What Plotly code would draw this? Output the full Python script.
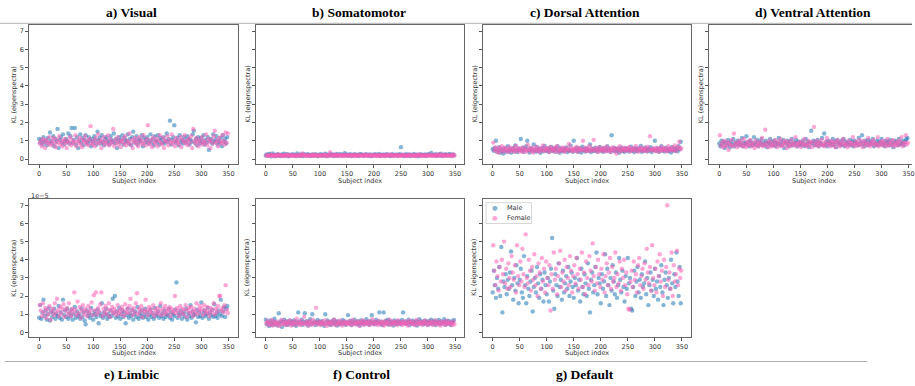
import plotly.graph_objects as go

W, H = 915, 386

# ---------------- data (KL eigenspectra, every other subject index) ----------------
visual_male = [1.1,0.9,1.05,0.8,1.2,0.95,1.0,0.75,1.15,0.9,1.45,1.0,0.85,1.25,0.7,1.1,0.95,1.65,0.6,1.05,1.2,0.9,1.35,0.8,1.0,
 1.1,0.95,1.4,0.85,1.25,1.7,0.9,1.05,1.7,0.8,1.2,0.6,1.0,1.35,0.9,1.15,0.75,1.05,1.3,0.95,0.85,1.2,1.0,0.7,1.1,
 0.9,1.25,1.05,0.8,1.5,1.0,1.15,0.85,1.3,0.95,0.75,1.1,1.2,0.9,1.0,0.8,1.25,1.05,0.95,1.4,0.85,1.1,0.6,1.0,1.2,
 0.9,1.05,1.3,0.8,1.15,0.95,1.0,1.35,0.85,1.1,0.75,1.2,1.5,0.9,1.05,1.25,0.8,1.0,1.1,0.95,1.3,0.7,1.15,0.9,1.05,
 1.2,0.85,1.0,1.35,0.9,1.1,0.75,1.25,1.0,0.95,1.3,0.8,1.15,1.05,0.9,1.2,0.85,1.0,1.4,0.95,1.1,2.1,0.8,1.05,1.2,
 1.85,0.9,1.0,1.15,0.75,1.3,0.95,1.05,0.85,1.2,1.0,0.9,1.25,1.1,0.8,1.05,0.95,1.35,1.55,0.9,1.1,0.75,1.2,1.0,0.85,
 1.15,0.95,1.3,0.8,1.05,0.9,1.2,0.5,1.0,1.1,0.85,1.35,0.95,1.05,1.25,0.8,1.0,0.9,1.15,0.7,1.3,0.95,1.1,0.85,1.2]
visual_female = [0.85,1.0,0.7,1.1,0.9,0.6,1.05,0.95,0.8,1.2,0.9,0.75,1.0,1.15,0.85,0.65,1.05,0.9,1.25,0.8,1.0,0.7,0.95,1.1,0.85,
 0.6,1.0,0.9,1.2,0.75,1.05,0.85,0.95,1.3,0.7,1.0,0.9,1.15,0.8,0.65,1.05,0.95,1.25,0.85,1.0,0.75,1.1,1.8,0.9,0.8,
 1.0,0.7,1.15,0.9,1.35,0.85,1.05,0.6,0.95,1.2,0.8,1.0,0.9,1.3,0.75,1.1,0.85,0.95,1.65,0.7,1.05,0.9,1.2,0.8,1.0,
 0.65,0.95,1.1,0.85,1.25,0.75,1.0,0.9,1.4,0.8,1.05,0.6,0.95,1.15,0.85,1.0,0.7,1.2,0.9,1.05,0.8,1.3,0.95,0.75,1.1,
 1.85,0.9,0.8,1.05,0.65,1.2,0.95,0.85,1.1,0.7,1.0,1.3,0.9,0.8,1.15,0.6,1.0,0.95,1.25,0.75,1.05,0.9,1.35,0.85,1.0,
 0.7,1.15,0.9,1.0,0.8,1.2,0.65,1.05,0.95,1.3,0.85,1.0,0.75,1.1,0.9,1.25,0.6,1.65,1.0,0.85,1.15,0.95,0.7,1.05,0.9,
 1.2,0.8,1.0,0.9,1.35,0.75,1.1,0.95,0.6,1.05,0.85,1.25,1.55,0.9,1.0,0.7,1.15,0.95,0.85,1.3,1.0,0.8,1.45,0.9,1.4]

somato_male = [0.2,0.25,0.18,0.28,0.22,0.15,0.3,0.2,0.24,0.17,0.21,0.27,0.19,0.23,0.16,0.25,0.2,0.29,0.18,0.22,0.26,0.15,0.21,0.24,0.19,
 0.27,0.2,0.23,0.17,0.3,0.21,0.18,0.25,0.22,0.16,0.28,0.2,0.24,0.19,0.26,0.22,0.17,0.21,0.25,0.18,0.23,0.27,0.2,0.15,0.24,
 0.21,0.26,0.18,0.23,0.2,0.29,0.16,0.24,0.22,0.19,0.27,0.21,0.25,0.17,0.23,0.2,0.28,0.18,0.22,0.26,0.19,0.24,0.21,0.32,0.2,
 0.25,0.18,0.22,0.27,0.16,0.23,0.2,0.26,0.19,0.24,0.21,0.17,0.28,0.22,0.25,0.2,0.18,0.23,0.27,0.19,0.21,0.25,0.16,0.24,0.2,
 0.22,0.26,0.19,0.24,0.2,0.28,0.17,0.23,0.21,0.25,0.18,0.22,0.27,0.2,0.24,0.16,0.21,0.26,0.19,0.23,0.2,0.25,0.18,0.22,0.27,
 0.65,0.2,0.24,0.17,0.22,0.26,0.19,0.21,0.25,0.16,0.23,0.2,0.28,0.18,0.22,0.24,0.15,0.21,0.26,0.19,0.23,0.2,0.25,0.17,0.22,
 0.27,0.2,0.24,0.33,0.19,0.23,0.21,0.26,0.18,0.22,0.25,0.2,0.29,0.17,0.23,0.21,0.26,0.19,0.24,0.2,0.28,0.22,0.18,0.25,0.21]
somato_female = [0.18,0.22,0.2,0.16,0.24,0.19,0.21,0.15,0.23,0.2,0.17,0.25,0.19,0.22,0.18,0.2,0.16,0.23,0.21,0.19,0.24,0.17,0.2,0.22,0.18,
 0.21,0.19,0.16,0.23,0.2,0.18,0.22,0.17,0.3,0.2,0.24,0.19,0.21,0.16,0.23,0.18,0.2,0.22,0.17,0.25,0.19,0.21,0.18,0.2,0.23,
 0.17,0.2,0.22,0.19,0.24,0.18,0.21,0.16,0.23,0.38,0.2,0.18,0.22,0.19,0.25,0.17,0.21,0.2,0.23,0.18,0.22,0.16,0.2,0.24,0.19,
 0.21,0.18,0.23,0.2,0.17,0.22,0.19,0.24,0.16,0.21,0.2,0.23,0.18,0.22,0.19,0.17,0.25,0.2,0.21,0.18,0.23,0.19,0.22,0.16,0.2,
 0.24,0.19,0.21,0.17,0.22,0.2,0.18,0.23,0.19,0.21,0.16,0.24,0.2,0.22,0.18,0.25,0.19,0.2,0.17,0.23,0.21,0.18,0.22,0.2,0.16,
 0.22,0.19,0.23,0.2,0.18,0.21,0.17,0.24,0.2,0.19,0.22,0.18,0.23,0.16,0.21,0.2,0.25,0.19,0.22,0.17,0.2,0.23,0.18,0.21,0.19,
 0.2,0.24,0.18,0.22,0.19,0.21,0.17,0.23,0.2,0.18,0.26,0.19,0.22,0.2,0.17,0.24,0.21,0.19,0.23,0.18,0.2,0.22,0.16,0.25,0.2]

dorsal_male = [0.55,0.45,0.6,1.0,0.4,0.5,0.65,0.35,0.55,0.45,0.3,0.6,0.5,0.4,0.7,0.45,0.55,0.35,0.5,0.6,0.42,0.75,0.48,0.38,0.58,
 0.5,1.1,0.45,0.62,0.4,0.55,0.7,1.0,0.48,0.36,0.6,0.52,0.44,0.8,0.5,0.4,0.65,0.46,0.56,0.34,0.5,0.6,0.42,0.72,0.5,
 0.45,0.58,0.38,0.52,0.66,0.44,0.5,0.6,0.4,0.55,0.7,0.46,0.35,0.6,0.5,0.42,0.56,0.48,0.64,0.38,0.52,0.45,0.75,0.5,0.4,
 1.0,0.55,0.46,0.62,0.4,0.5,0.58,0.36,0.68,0.48,0.54,0.42,0.6,0.5,0.45,0.8,0.38,0.56,0.5,0.44,0.62,0.48,0.4,0.55,0.66,
 0.46,0.52,0.4,0.6,0.5,0.44,0.7,0.48,0.56,0.38,1.3,0.5,0.62,0.42,0.55,0.46,0.58,0.35,0.5,0.64,0.44,0.52,0.4,0.6,0.48,
 0.56,0.42,0.5,0.68,0.45,0.55,0.38,0.6,0.5,0.44,0.58,0.48,0.72,0.4,0.52,0.46,0.62,0.5,0.42,0.56,0.48,0.65,0.38,0.54,0.5,
 1.0,0.45,0.6,0.5,0.4,0.56,0.7,0.46,0.52,0.42,0.62,0.5,0.44,0.58,0.48,0.36,0.66,0.5,0.45,0.6,0.52,0.42,0.7,0.55,0.95]
dorsal_female = [0.9,0.5,0.65,0.42,0.58,0.35,0.6,0.48,0.7,0.4,0.55,0.62,0.45,0.52,0.38,0.66,0.5,0.44,0.6,0.54,0.4,0.72,0.48,0.56,0.42,
 0.6,0.5,0.38,0.64,0.46,0.55,0.42,0.78,0.5,0.58,0.44,0.62,0.36,0.54,0.48,0.68,0.45,0.56,0.4,0.6,0.5,0.74,0.44,0.52,0.62,
 0.46,0.58,0.4,0.66,0.5,0.55,0.42,0.62,0.48,0.7,0.38,0.56,0.5,0.45,0.64,0.52,0.4,0.6,0.48,0.56,0.82,0.44,0.62,0.5,0.42,
 0.58,0.48,0.66,0.4,0.54,0.6,0.46,0.52,1.0,0.5,0.62,0.42,0.56,0.48,0.7,0.44,0.58,0.5,1.05,0.45,0.6,0.52,0.4,0.64,0.5,
 0.46,0.56,0.62,0.42,0.5,0.68,0.44,0.58,0.5,0.4,0.64,0.52,0.46,0.6,0.3,0.55,0.48,0.7,0.42,0.56,0.5,0.62,0.44,0.54,0.6,
 0.48,0.66,0.42,0.56,0.5,0.6,0.45,0.72,0.52,0.4,0.58,0.5,0.64,0.44,0.55,0.48,0.62,0.42,0.68,0.5,1.25,0.54,0.46,0.6,0.5,
 0.44,0.62,0.52,0.4,0.58,0.48,0.66,0.5,0.45,0.6,0.54,0.42,0.7,0.5,0.56,0.46,0.62,0.5,0.74,0.44,0.58,0.68,0.95,0.52,0.6]

ventral_male = [0.85,0.7,1.0,0.8,0.95,0.6,0.9,0.75,1.05,0.85,0.65,0.95,0.8,1.1,0.7,0.9,0.85,1.0,0.75,0.95,0.8,1.15,0.7,0.9,0.85,
 1.25,0.8,0.95,0.7,1.0,0.85,0.75,1.2,0.9,0.8,1.05,0.7,0.95,0.85,1.1,0.75,0.9,0.8,1.0,0.65,0.9,0.85,1.1,0.75,0.95,
 0.8,1.0,0.7,0.9,0.85,1.15,0.75,0.95,0.8,1.05,0.6,0.9,0.85,1.0,0.7,0.95,0.8,1.1,0.75,0.9,0.85,1.05,0.7,0.95,0.8,
 0.9,0.75,1.0,0.85,0.7,1.1,0.8,0.95,0.65,0.9,1.55,0.85,1.0,0.75,0.95,0.8,1.05,0.7,0.9,0.85,1.15,0.75,1.4,0.8,0.95,
 0.7,1.0,0.85,0.9,0.75,1.1,0.8,0.95,0.65,1.05,0.85,0.9,0.75,1.0,0.8,1.1,0.7,0.95,0.85,0.9,0.75,1.05,0.8,0.95,0.7,
 1.0,0.85,0.9,0.75,1.15,0.8,0.95,1.3,0.85,0.7,1.0,0.9,0.75,1.05,0.8,0.95,0.85,1.1,0.7,0.9,0.8,1.0,0.75,0.95,0.85,
 1.1,0.8,0.9,0.7,1.0,0.85,0.95,0.75,1.05,0.8,0.9,0.65,1.0,0.85,0.95,0.75,1.1,0.8,0.9,0.85,1.0,0.75,0.95,1.1,1.15]
ventral_female = [1.3,0.75,0.9,0.65,1.0,0.8,0.7,0.95,0.5,0.85,0.75,1.05,0.7,1.4,0.8,0.9,0.65,0.85,1.0,0.75,0.9,0.7,1.1,0.8,0.65,
 0.95,0.75,0.85,1.05,0.7,0.9,0.8,0.6,1.0,0.75,0.85,0.7,0.95,0.8,1.15,0.7,0.85,1.6,0.75,0.9,0.65,1.0,0.8,0.7,0.9,
 0.75,1.05,0.85,0.65,0.95,0.8,1.1,0.7,0.9,0.75,1.0,0.85,0.6,0.95,0.8,0.7,1.05,0.85,0.75,0.9,1.2,0.7,0.85,0.8,0.95,
 0.65,0.9,0.8,1.1,0.75,0.85,0.7,1.0,0.8,0.9,0.65,0.95,1.75,0.75,0.85,1.0,0.7,0.9,0.8,1.05,0.75,0.85,0.7,0.95,1.15,
 0.8,0.9,0.7,1.0,0.85,0.75,0.95,0.65,0.9,1.05,0.8,0.7,0.95,0.85,1.1,0.75,0.9,0.8,0.65,1.0,0.85,0.75,0.9,1.2,0.8,
 0.7,0.95,0.85,0.75,1.05,0.8,0.9,0.65,1.0,0.85,0.75,0.9,1.15,0.8,0.7,0.95,0.85,1.05,0.75,0.9,0.8,1.2,0.7,0.85,0.95,
 0.75,1.0,0.8,0.9,0.7,1.1,0.85,0.75,0.95,0.8,1.05,0.7,0.9,0.85,0.75,1.0,0.8,0.95,1.2,0.7,0.85,0.9,1.3,0.8,0.9]

limbic_male = [0.8,1.5,0.75,1.1,1.8,0.9,1.2,0.7,1.0,1.35,0.65,1.15,0.85,1.05,1.3,0.75,1.0,0.9,1.45,0.8,1.1,0.7,1.8,0.95,1.2,
 0.85,1.3,0.75,1.05,0.9,1.25,0.7,1.0,1.4,0.8,1.15,0.9,1.0,0.75,1.3,0.85,1.1,0.65,0.45,1.2,0.9,1.05,0.8,1.35,0.95,
 0.7,1.15,1.0,0.85,1.25,0.5,1.05,0.9,1.6,0.8,1.1,0.95,1.3,0.75,1.0,0.85,1.2,0.9,1.85,1.05,2.0,0.8,1.15,0.9,1.35,
 0.75,1.0,1.2,0.85,1.1,0.5,0.95,1.3,0.8,1.05,0.9,1.25,0.7,1.0,1.15,0.85,1.4,0.75,1.05,0.9,1.2,0.8,1.0,1.3,0.85,
 1.1,0.7,0.95,1.25,0.85,1.05,0.75,1.35,0.9,1.0,1.15,0.8,1.45,0.9,1.05,0.75,1.2,0.85,1.0,0.95,1.3,0.8,1.1,0.7,1.0,
 0.9,1.25,2.75,0.8,1.05,0.95,1.2,0.75,1.0,1.1,0.85,1.3,0.7,1.05,0.9,1.5,0.8,1.15,0.95,1.0,0.55,1.25,0.85,1.1,0.9,
 1.65,0.8,1.05,1.2,0.9,1.0,1.35,0.75,1.1,0.95,1.25,0.85,1.55,0.9,1.05,0.8,1.2,1.0,1.8,0.9,1.15,1.4,0.85,1.3,1.45]
limbic_female = [1.5,1.2,0.9,1.6,1.1,1.35,0.8,1.25,1.0,1.45,0.7,1.15,1.3,0.95,1.6,1.1,1.85,1.2,0.9,1.4,1.05,1.3,1.55,0.85,1.2,
 1.35,1.0,1.6,1.15,0.9,1.3,1.1,2.2,1.25,0.95,1.7,1.05,1.4,0.8,1.2,1.5,1.0,1.3,1.15,0.9,1.45,1.1,1.25,1.65,0.95,
 2.05,1.2,2.2,1.0,1.35,1.15,1.55,2.2,0.9,1.3,1.1,1.45,1.0,1.25,1.6,0.85,1.2,1.4,1.05,1.3,1.15,0.95,1.5,1.1,1.25,
 1.0,1.4,1.2,0.9,1.55,1.1,1.3,1.05,1.45,1.85,1.2,0.95,1.35,1.1,1.6,2.15,1.0,1.3,1.15,1.45,0.85,1.25,1.1,1.8,1.2,
 0.95,1.4,1.15,1.3,1.05,1.5,0.9,1.25,1.1,1.35,1.0,1.2,1.6,0.95,1.3,1.1,1.45,1.0,1.25,1.15,1.4,0.9,1.3,1.1,1.2,
 2.0,1.05,1.35,1.2,0.9,1.45,1.1,1.3,1.0,1.25,1.5,0.85,1.2,1.35,1.05,1.4,1.15,0.9,1.3,1.1,1.6,1.0,1.25,1.45,1.15,
 1.3,0.95,1.5,1.2,1.05,1.4,1.15,0.9,1.35,1.1,1.25,1.6,1.0,1.3,1.15,1.45,2.0,2.0,1.2,1.35,1.1,1.5,2.6,1.25,1.05]

control_male = [0.7,0.45,0.55,0.35,0.65,0.5,0.4,0.6,0.75,0.45,0.55,0.38,1.05,0.5,0.62,0.3,0.55,0.7,0.45,0.6,0.4,0.52,0.66,0.48,0.58,
 0.42,0.65,0.5,0.36,0.6,1.1,0.48,0.55,0.7,0.42,0.58,1.05,0.5,0.62,0.38,0.56,0.72,0.46,1.0,0.52,0.6,0.4,0.55,0.68,0.48,
 0.58,0.44,0.62,0.5,0.36,1.0,0.54,0.66,0.46,0.56,0.4,0.6,0.52,0.7,0.45,0.58,0.38,0.62,0.5,0.44,0.56,0.68,0.48,0.6,0.42,
 0.54,0.95,0.5,0.64,0.4,0.58,0.48,0.7,0.55,0.44,0.62,0.5,0.38,0.66,0.52,0.6,0.45,0.56,0.72,0.48,0.58,0.42,0.62,0.95,0.5,
 0.56,0.44,0.68,0.52,0.6,1.1,0.46,0.58,0.4,1.1,0.55,0.64,0.48,0.7,0.42,0.56,0.6,0.5,0.38,0.66,0.54,0.46,0.62,0.5,0.58,
 0.44,0.68,1.1,0.52,0.6,0.46,0.56,0.7,0.4,0.58,0.5,0.64,0.45,0.55,0.62,0.38,0.56,0.72,0.48,0.6,0.52,0.44,0.66,0.5,0.58,
 0.42,0.62,0.5,0.7,0.46,0.56,0.64,0.4,0.58,0.52,0.68,0.45,0.6,0.5,0.55,0.72,0.42,0.58,0.48,0.64,0.52,0.4,0.6,0.55,0.68]
control_female = [0.5,0.62,0.4,0.55,0.45,0.68,0.38,0.58,0.5,0.42,0.6,0.48,0.35,0.55,0.7,0.44,0.52,0.62,0.4,0.5,0.58,0.45,0.66,0.38,0.54,
 0.48,0.6,0.42,0.75,0.5,0.56,0.4,0.64,0.46,0.52,0.85,0.44,0.58,0.5,0.38,0.62,0.54,0.42,0.7,0.48,0.56,1.35,0.45,0.6,0.5,
 0.4,0.58,0.52,0.44,0.66,0.48,0.36,0.6,0.5,0.55,0.42,0.62,0.48,0.7,0.4,0.56,0.5,0.45,0.64,0.52,0.38,0.58,0.48,0.6,0.44,
 0.54,0.46,0.62,0.5,0.4,0.68,0.52,0.44,0.58,0.48,0.6,0.36,0.55,0.5,0.66,0.42,0.58,0.48,0.52,0.62,0.4,0.56,0.5,0.72,0.45,
 0.6,0.48,0.54,0.4,0.64,0.5,0.45,0.58,0.52,0.38,0.62,0.48,0.56,0.44,0.7,0.5,0.42,0.6,0.54,0.46,0.58,0.4,0.66,0.5,0.48,
 0.56,0.42,0.62,0.5,0.46,0.58,0.38,0.64,0.52,0.48,0.6,0.44,0.55,0.4,0.68,0.5,0.46,0.6,0.52,0.42,0.58,0.48,0.64,0.5,0.4,
 0.58,0.46,0.52,0.62,0.4,0.55,0.48,0.66,0.44,0.56,0.5,0.38,0.6,0.52,0.45,0.58,0.42,0.64,0.5,0.46,0.56,0.48,0.4,0.6,0.44]

default_male = [2.2,3.4,2.6,1.9,3.0,2.4,3.6,2.0,4.7,1.1,2.8,2.5,3.2,2.1,2.9,2.4,3.3,4.45,2.6,1.8,3.0,2.3,3.7,2.7,1.6,
 2.9,3.5,2.2,1.9,4.2,2.6,1.6,3.1,2.4,2.0,2.8,3.4,1.15,2.5,3.0,2.2,3.6,2.7,1.9,3.2,2.4,2.9,1.7,3.3,2.6,
 2.1,3.0,1.7,2.8,3.5,5.2,2.3,1.3,3.2,2.6,2.0,3.8,2.5,2.9,1.8,3.4,2.2,2.7,3.1,2.4,3.6,2.0,2.8,3.3,2.5,
 1.9,3.0,2.6,4.1,2.3,2.9,1.7,3.5,2.5,2.1,3.2,2.7,2.0,3.8,2.4,1.1,2.9,3.3,2.2,2.6,3.6,4.4,2.1,3.0,2.7,
 1.6,3.2,2.4,2.8,4.3,2.0,3.5,2.6,1.5,3.0,2.3,3.7,2.8,2.1,3.3,1.9,2.6,4.1,2.9,2.2,3.4,2.5,1.7,3.1,2.4,
 4.1,2.7,3.0,1.3,1.2,2.5,3.4,2.0,2.8,3.6,2.2,2.9,1.9,3.2,2.5,2.7,3.9,2.1,3.0,1.5,2.6,3.3,2.3,2.9,2.0,
 3.5,2.4,2.8,1.8,3.1,2.5,3.7,2.2,1.5,2.9,3.3,2.6,1.9,3.0,2.4,4.0,2.7,1.6,3.2,2.5,4.4,2.8,2.0,3.6,1.6]
default_female = [4.8,3.4,2.6,3.9,3.1,2.3,3.6,2.8,4.0,3.2,5.0,2.7,3.5,2.4,3.8,3.0,2.5,4.2,3.3,2.9,3.7,2.2,4.8,3.1,2.6,
 3.9,2.8,4.6,3.2,2.5,5.4,3.0,2.7,4.0,3.4,2.3,3.6,2.9,4.3,2.6,3.1,2.0,3.8,3.3,2.4,4.1,2.8,3.5,2.2,3.9,
 3.0,2.6,3.7,1.2,3.2,2.4,4.4,2.9,3.5,2.1,3.1,3.8,4.5,2.5,3.3,2.8,4.0,2.3,3.6,3.0,2.6,4.2,3.4,2.2,3.1,
 3.7,2.7,4.1,3.2,2.4,3.5,2.9,4.4,2.5,3.3,2.1,3.9,3.0,2.6,4.2,3.4,2.8,4.9,3.1,2.3,3.6,2.7,4.0,3.2,2.5,
 3.5,2.9,4.3,2.2,3.1,3.8,2.6,3.3,4.1,2.4,3.6,2.8,3.0,4.4,2.5,3.2,2.7,3.9,2.3,3.5,3.0,4.0,2.6,3.3,2.1,
 1.3,1.25,2.8,3.4,2.5,3.9,2.9,3.2,2.2,3.7,4.1,2.6,3.1,3.5,2.4,3.8,2.9,4.6,3.3,2.7,3.6,2.3,4.8,3.0,2.6,
 3.5,2.2,3.9,3.1,4.3,2.8,3.4,2.0,4.0,2.5,3.6,7.0,2.9,3.3,2.4,4.4,2.0,3.7,2.8,3.2,4.5,2.6,3.5,3.0,3.4]

panel_titles = ["a) Visual", "b) Somatomotor", "c) Dorsal Attention", "d) Ventral Attention",
                "e) Limbic", "f) Control", "g) Default"]
panel_male = [visual_male, somato_male, dorsal_male, ventral_male, limbic_male, control_male, default_male]
panel_female = [visual_female, somato_female, dorsal_female, ventral_female, limbic_female, control_female, default_female]
x_ticks = [0, 50, 100, 150, 200, 250, 300, 350]
y_ticks = [0, 1, 2, 3, 4, 5, 6, 7]
x_title = "Subject index"
y_title = "KL (eigenspectra)"
series_names = ["Male", "Female"]

# ---------------- layout geometry (pixels) ----------------
col_px = [(29.3, 238.7), (256.7, 465.7), (484.3, 693.7), (711.7, 915.0)]
row_px = [(25.0, 164.0), (199.3, 336.7)]
panel_pos = [(0, 0), (0, 1), (0, 2), (0, 3), (1, 0), (1, 1), (1, 2)]
PX_PER_UNIT_X = 0.5423
X_LEFT = -18.45

def fx(px):
    return px / W

def fy(py):
    return 1 - py / H

MALE_C = "rgba(31,119,180,0.55)"
FEMALE_C = "rgba(255,95,180,0.55)"
TXT = "#333333"
FONT = "DejaVu Sans"

fig = go.Figure()
layout = dict(width=W, height=H, margin=dict(l=0, r=0, t=0, b=0),
              paper_bgcolor="white", plot_bgcolor="white", showlegend=False)
annotations = []
shapes = []

def note(x, y, text, size=6.5, color=TXT, family=FONT, xanchor="center", angle=0):
    annotations.append(dict(x=fx(x), y=fy(y), xref="paper", yref="paper", text=text,
                            xanchor=xanchor, yanchor="middle", textangle=angle,
                            showarrow=False, font=dict(family=family, size=size, color=color)))

for k, (r, c) in enumerate(panel_pos):
    idx = "" if k == 0 else str(k + 1)
    xa, ya = "x" + idx, "y" + idx
    x0, x1 = col_px[c]
    y0, y1 = row_px[r]
    vm = panel_male[k]
    vf = panel_female[k]
    fig.add_trace(go.Scatter(x=list(range(0, 2 * len(vm), 2)), y=vm, mode="markers",
                             marker=dict(color=MALE_C, size=4.4, line=dict(width=0)),
                             name=series_names[0], xaxis=xa, yaxis=ya))
    fig.add_trace(go.Scatter(x=list(range(1, 2 * len(vf), 2)), y=vf, mode="markers",
                             marker=dict(color=FEMALE_C, size=4.4, line=dict(width=0)),
                             name=series_names[1], xaxis=xa, yaxis=ya))
    xr = [X_LEFT, X_LEFT + (x1 - x0) / PX_PER_UNIT_X]
    yr = [-0.27, 7.33] if r == 0 else [-0.24, 7.33]
    layout["xaxis" + idx] = dict(domain=[fx(x0), fx(x1)], range=xr, anchor=ya,
                                 tickvals=x_ticks, ticks="outside", ticklen=3, tickwidth=0.8,
                                 tickcolor="#555", showline=True, linecolor="#666", linewidth=1.2,
                                 mirror=True, showgrid=False, zeroline=False,
                                 ticklabeloverflow="allow",
                                 tickfont=dict(family=FONT, size=6.5, color=TXT))
    layout["yaxis" + idx] = dict(domain=[fy(y1), fy(y0)], range=yr, anchor=xa,
                                 tickvals=y_ticks, ticks="outside", ticklen=3, tickwidth=0.8,
                                 tickcolor="#555", showline=True, linecolor="#666", linewidth=1.2,
                                 mirror=(c != 3), showgrid=False, zeroline=False,
                                 showticklabels=(c == 0),
                                 tickfont=dict(family=FONT, size=6.5, color=TXT))
    # axis titles
    xc = (x0 + x1) / 2 if c != 3 else x0 + 10 + 175 * PX_PER_UNIT_X
    note(xc, y1 + 16.5, x_title)
    note(14.0 if c == 0 else x0 - 8.7, (y0 + y1) / 2, y_title, angle=-90)

# panel titles
title_centers = [(131.5, 12.5), (360, 12.5), (587, 12.5), (816, 12.5),
                 (131.5, 374.5), (363, 374.5), (587, 374.5)]
for t, (cx, cy) in zip(panel_titles, title_centers):
    note(cx, cy, "<b>%s</b>" % t, size=13.5, color="black", family="Liberation Serif")

# offset text of limbic panel
note(29, 196, "1e\u22125", xanchor="left")

# legend of the Default panel (drawn as a small boxed key)
shapes.append(dict(type="rect", xref="paper", yref="paper", x0=fx(487.7), x1=fx(533.3),
                   y0=fy(223.5), y1=fy(202.7), fillcolor="rgba(255,255,255,0.85)",
                   line=dict(color="#cccccc", width=0.8)))
note(496.8, 208.3, "\u25cf", size=6.5, color=MALE_C)
note(496.8, 217.8, "\u25cf", size=6.5, color=FEMALE_C)
note(506.5, 208.3, series_names[0], xanchor="left")
note(506.5, 217.8, series_names[1], xanchor="left")

# separator rules
shapes.append(dict(type="line", xref="paper", yref="paper", x0=0, x1=1, y0=fy(23.3), y1=fy(23.3),
                   line=dict(color="#b0b0b0", width=1)))
shapes.append(dict(type="line", xref="paper", yref="paper", x0=fx(5), x1=fx(870), y0=fy(361.5), y1=fy(361.5),
                   line=dict(color="#b0b0b0", width=1)))

layout["annotations"] = annotations
layout["shapes"] = shapes
fig.update_layout(**layout)
fig.write_html("out.html")
